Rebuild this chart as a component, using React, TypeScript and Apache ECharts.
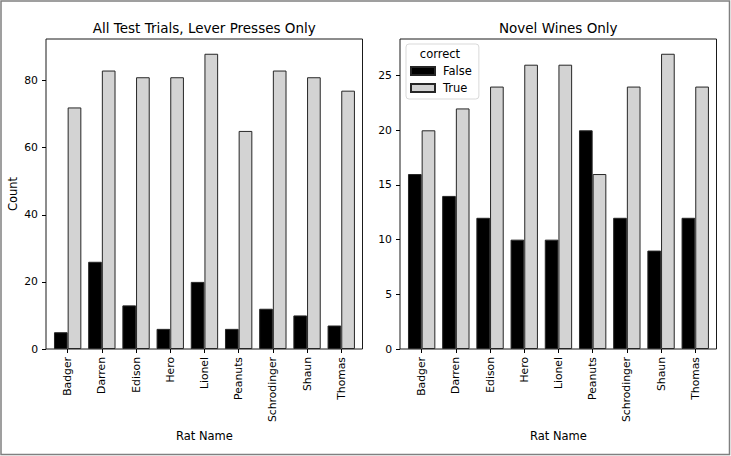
import React, { useEffect, useRef } from "react";
import * as echarts from "echarts";

const ratNames = ["Badger", "Darren", "Edison", "Hero", "Lionel", "Peanuts", "Schrodinger", "Shaun", "Thomas"];
const allFalse = [5, 26, 13, 6, 20, 6, 12, 10, 7];
const allTrue = [72, 83, 81, 81, 88, 65, 83, 81, 77];
const novelFalse = [16, 14, 12, 10, 10, 20, 12, 9, 12];
const novelTrue = [20, 22, 24, 26, 26, 16, 24, 27, 24];
const leftTicks = [0, 20, 40, 60, 80];
const rightTicks = [0, 5, 10, 15, 20, 25];
const leftTitle = "All Test Trials, Lever Presses Only";
const rightTitle = "Novel Wines Only";
const legendTitle = "correct";
const hueNames = ["False", "True"];

const FONT = "DejaVu Sans";

export default function App() {
  const ref = useRef<HTMLDivElement>(null);
  useEffect(() => {
    document.body.style.margin = "0";
    const chart = echarts.init(ref.current!, null, { renderer: "svg" });
    const leftMax = Math.max(...allFalse, ...allTrue) * 1.05;
    const rightMax = Math.max(...novelFalse, ...novelTrue) * 1.05;
    const frameW = 316.5;
    const pad = 21.65;
    const band = 34.2;
    const dataW = band * ratNames.length;
    const frames = [46, 400];
    const tickLabel = { fontFamily: FONT, fontSize: 10.8, color: "#000" };
    const grids: any[] = [];
    frames.forEach((l) => {
      grids.push({ left: l, top: 39, width: frameW, height: 310, show: true, borderColor: "#1a1a1a", borderWidth: 1, backgroundColor: "transparent" });
      grids.push({ left: l + pad - band / 2, top: 39, width: dataW, height: 310 });
    });
    const xAxes: any[] = [];
    const yAxes: any[] = [];
    const maxes = [leftMax, rightMax];
    const ticksArr = [leftTicks, rightTicks];
    [0, 1].forEach((p) => {
      const fg = p * 2;
      const dg = p * 2 + 1;
      xAxes.push({ type: "category", gridIndex: fg, data: ratNames, show: false });
      xAxes.push({
        type: "category",
        gridIndex: dg,
        data: ratNames,
        axisLine: { show: false },
        axisTick: { show: true, alignWithLabel: true, length: 4, lineStyle: { color: "#000" } },
        axisLabel: { ...tickLabel, rotate: 90, margin: 8, interval: 0 },
        name: "Rat Name",
        nameLocation: "middle",
        nameGap: 77,
        nameTextStyle: { fontFamily: FONT, fontSize: 11.5, color: "#000" },
      });
      yAxes.push({
        type: "value",
        gridIndex: fg,
        min: 0,
        max: maxes[p],
        axisLine: { show: false },
        splitLine: { show: false },
        axisTick: { show: true, length: 4, lineStyle: { color: "#000" }, customValues: ticksArr[p] },
        axisLabel: { ...tickLabel, margin: 8, customValues: ticksArr[p] },
        name: p === 0 ? "Count" : "",
        nameLocation: "middle",
        nameGap: 27,
        nameTextStyle: { fontFamily: FONT, fontSize: 11.5, color: "#000" },
      });
      yAxes.push({ type: "value", gridIndex: dg, min: 0, max: maxes[p], show: false });
    });
    const barStyle = (fill: string) => ({ color: fill, borderColor: "#262626", borderWidth: 1 });
    const series: any[] = [];
    const data = [
      [allFalse, allTrue],
      [novelFalse, novelTrue],
    ];
    [0, 1].forEach((p) => {
      [0, 1].forEach((h) => {
        series.push({
          type: "bar",
          name: hueNames[h],
          xAxisIndex: p * 2 + 1,
          yAxisIndex: p * 2 + 1,
          data: data[p][h],
          barGap: "0%",
          barCategoryGap: "20%",
          itemStyle: barStyle(h === 0 ? "#000000" : "#d3d3d3"),
        });
      });
    });
    const titleStyle = { fontFamily: FONT, fontSize: 13.5, fontWeight: "normal", color: "#000" };
    chart.setOption({
      animation: false,
      backgroundColor: "#fff",
      textStyle: { fontFamily: FONT },
      title: [
        { text: leftTitle, left: frames[0] + frameW / 2, top: 21, textAlign: "center", padding: 0, textStyle: titleStyle },
        { text: rightTitle, left: frames[1] + frameW / 2, top: 21, textAlign: "center", padding: 0, textStyle: titleStyle },
        { text: legendTitle, left: 440, top: 48, textAlign: "center", padding: 0, z: 10, textStyle: { fontFamily: FONT, fontSize: 11.5, fontWeight: "normal", color: "#000" } },
      ],
      legend: {
        data: hueNames,
        orient: "vertical",
        left: 406,
        top: 44,
        padding: [21, 7, 5, 4],
        itemWidth: 24,
        itemHeight: 8,
        itemGap: 5,
        icon: "rect",
        borderColor: "#d9d9d9",
        borderWidth: 1,
        borderRadius: 3,
        backgroundColor: "rgba(255,255,255,0.85)",
        selectedMode: false,
        textStyle: { fontFamily: FONT, fontSize: 11.5, color: "#000", padding: [0, 0, 0, 3] },
      },
      grid: grids,
      xAxis: xAxes,
      yAxis: yAxes,
      series,
      graphic: [
        { type: "rect", shape: { x: 1, y: 1, width: 728.5, height: 453.5 }, style: { fill: "none", stroke: "#808080", lineWidth: 1.5 }, silent: true },
      ],
    });
    return () => chart.dispose();
  }, []);
  return <div ref={ref} style={{ position: "absolute", left: 0, top: 0, width: 731, height: 456 }} />;
}
